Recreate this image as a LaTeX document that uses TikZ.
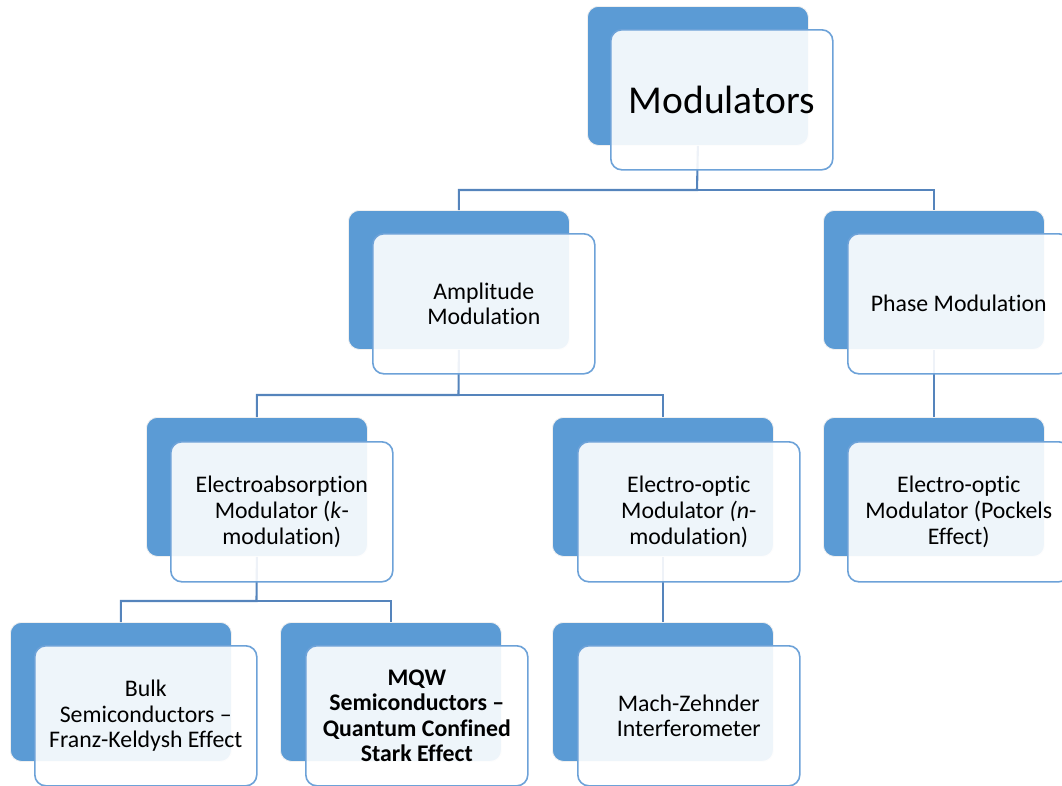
\documentclass[tikz,border=0pt]{standalone}
\usepackage{fontspec}
\setmainfont[Ligatures={TeX,NoCommon}]{Carlito}
\definecolor{backblue}{HTML}{5B9BD5}
\definecolor{frontblue}{HTML}{6DA2D8}
\definecolor{connblue}{HTML}{5584BC}
\begin{document}
\begin{tikzpicture}[x=1pt,y=-1pt,
  backbox/.style={draw=white!88!gray, line width=0.8pt, fill=backblue, rounded corners=11pt,
    minimum width=221pt, minimum height=139pt, anchor=north west, inner sep=0pt},
  frontbox/.style={draw=frontblue, line width=1.6pt, fill=white, fill opacity=0.9, text opacity=1,
    rounded corners=11pt, minimum width=222pt, minimum height=140pt, anchor=north west,
    align=center, inner sep=2pt, font=\fontsize{23.8}{25.6}\selectfont},
  conn/.style={draw=connblue, line width=2.1pt}]
\useasboundingbox (0,0) rectangle (1062,785);
\clip (0,0) rectangle (1062,785);

% back boxes
\node[backbox] (mB) at (587,6) {};
\node[backbox] (aB) at (348,210) {};
\node[backbox] (pB) at (823,210) {};
\node[backbox] (eaB) at (146,417) {};
\node[backbox] (eoB) at (552,417) {};
\node[backbox] (pkB) at (823,417) {};
\node[backbox] (bkB) at (10,622) {};
\node[backbox] (mqB) at (280,622) {};
\node[backbox] (mzB) at (552,622) {};

% connectors
\coordinate (j1) at (697,190);
\coordinate (j2) at (458.5,395);
\coordinate (j3) at (256.5,601);
\draw[conn] (mB.south) -- (j1) -| (aB.north);
\draw[conn] (j1) -| (pB.north);
\draw[conn] (aB.south) -- (j2) -| (eaB.north);
\draw[conn] (j2) -| (eoB.north);
\draw[conn] (pB.south) -- (pkB.north);
\draw[conn] (eaB.south) -- (j3) -| (bkB.north);
\draw[conn] (j3) -| (mqB.north);
\draw[conn] (eoB.south) -- (mzB.north);

% front boxes
\node[frontbox, font=\fontsize{39.5}{42}\selectfont] (m) at (610,29) {Modulators};
\node[frontbox] (a) at (372,233) {Amplitude\\Modulation};
\node[frontbox] (p) at (847,233) {Phase Modulation};
\node[frontbox] (ea) at (170,441) {Electroabsorption\\Modulator (\textit{k}-\\modulation)};
\node[frontbox] (eo) at (577,441) {Electro-optic\\Modulator \textit{(n}-\\modulation)};
\node[frontbox] (pk) at (847,441) {Electro-optic\\Modulator (Pockels\\Effect)};
\node[frontbox] (bk) at (34,645) {Bulk\\Semiconductors –\\Franz-Keldysh Effect};
\node[frontbox, font=\bfseries\fontsize{23.8}{25.6}\selectfont] (mq) at (305,645) {MQW\\Semiconductors –\\Quantum Confined\\Stark Effect};
\node[frontbox] (mz) at (577,645) {Mach-Zehnder\\Interferometer};
\end{tikzpicture}
\end{document}
